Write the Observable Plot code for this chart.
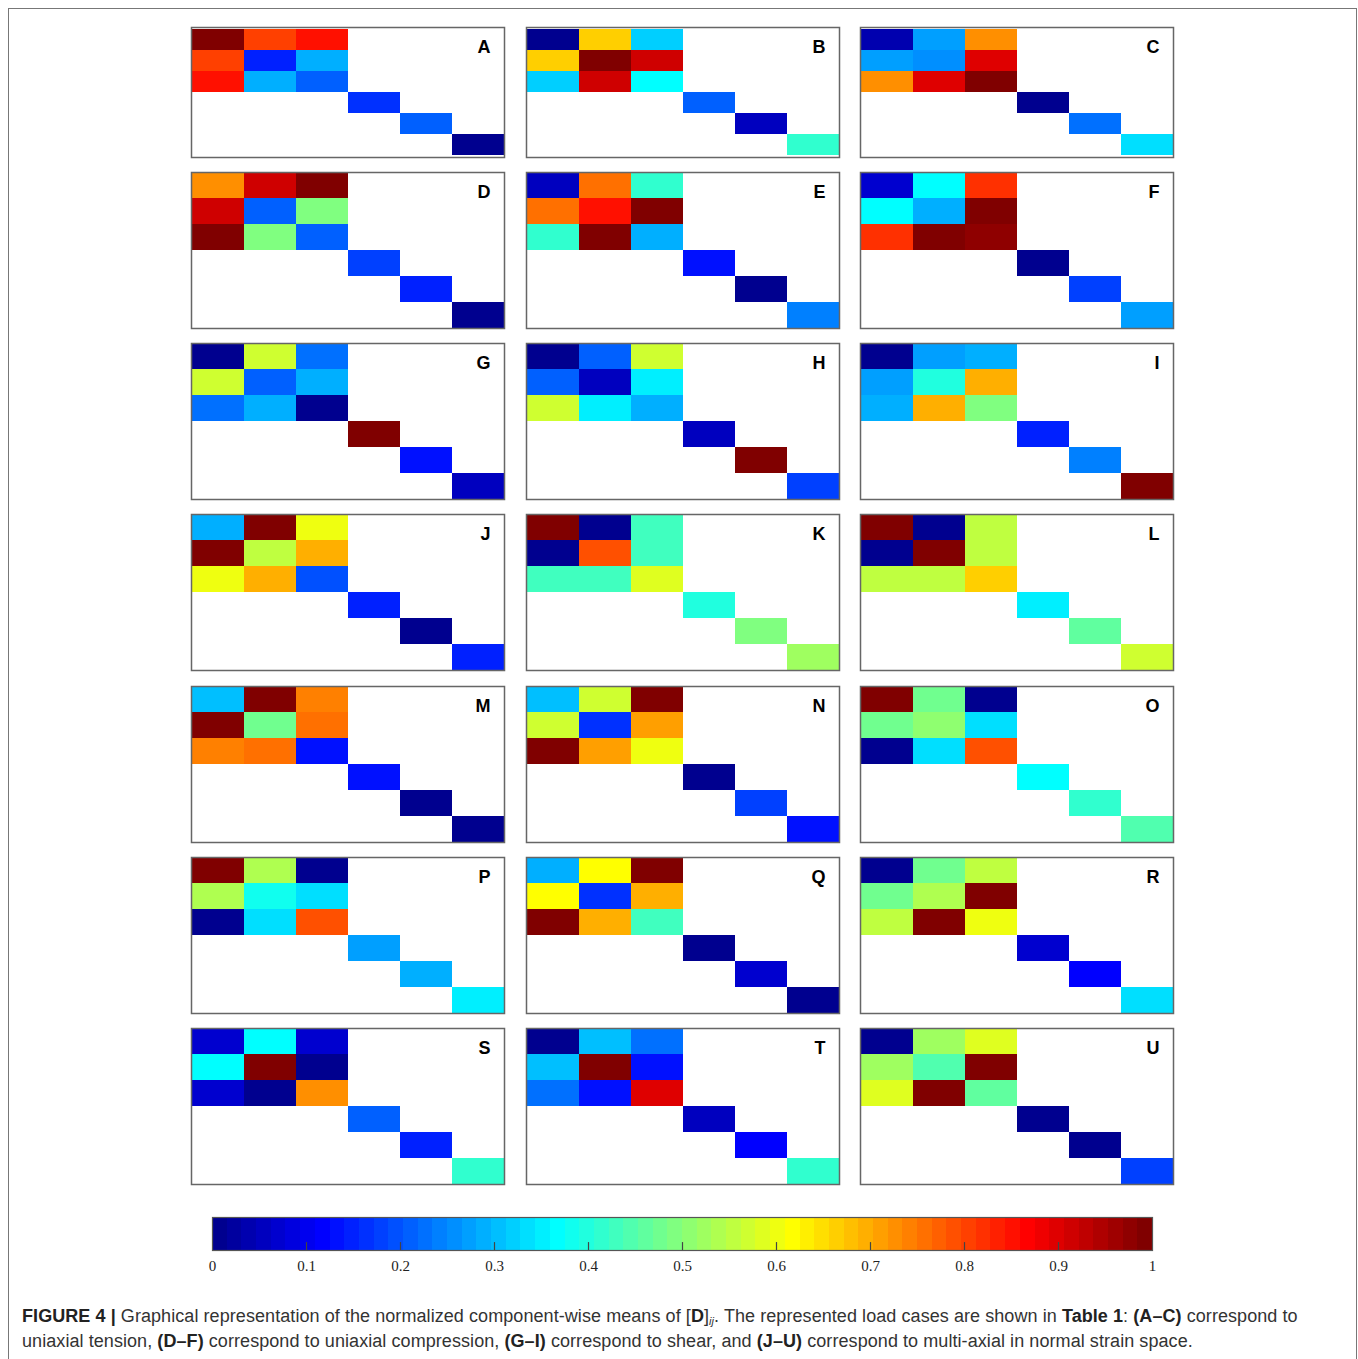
<!DOCTYPE html>
<html><head><meta charset="utf-8">
<script src="https://cdn.jsdelivr.net/npm/d3@7"></script>
<script src="https://cdn.jsdelivr.net/npm/@observablehq/plot@0.6"></script>
<style>
html,body{margin:0;padding:0;background:#fff;overflow:hidden;}
#fig{position:relative;width:1358px;height:1359px;}
#border{position:absolute;left:8px;top:8px;width:1349px;height:1420px;border:1.5px solid #777;box-sizing:border-box;}
.panel{position:absolute;}
.panel svg{overflow:visible;}
#caption{position:absolute;left:22px;top:1304px;font-family:"Liberation Sans",Arial,sans-serif;font-size:18px;letter-spacing:0.07px;line-height:25px;color:#333;white-space:nowrap;}
#caption b{color:#222;}
#caption sub{font-size:11px;vertical-align:-3px;line-height:0;}
</style></head><body>
<div id="fig"><div id="border"></div>
<div id="caption"><b>FIGURE 4 |</b> Graphical representation of the normalized component-wise means of [<b>D</b>]<sub><i>ij</i></sub>. The represented load cases are shown in <b>Table 1</b>: <b>(A–C)</b> correspond to<br>uniaxial tension, <b>(D–F)</b> correspond to uniaxial compression, <b>(G–I)</b> correspond to shear, and <b>(J–U)</b> correspond to multi-axial in normal strain space.</div>
</div>
<script>
// ---- data ----
const panels = ["A","B","C","D","E","F","G","H","I","J","K","L","M","N","O","P","Q","R","S","T","U"];
const d11 = [1.00,0.00,0.04,0.73,0.06,0.07,0.00,0.00,0.00,0.29,1.00,1.00,0.30,0.30,1.00,1.00,0.29,0.00,0.07,0.00,0.00];
const d12 = [0.80,0.66,0.27,0.91,0.76,0.37,0.57,0.21,0.27,1.00,0.00,0.00,1.00,0.57,0.48,0.54,0.62,0.48,0.37,0.30,0.52];
const d13 = [0.85,0.32,0.73,1.00,0.41,0.82,0.23,0.57,0.29,0.60,0.43,0.55,0.74,1.00,0.00,0.00,1.00,0.55,0.07,0.23,0.59];
const d22 = [0.15,1.00,0.26,0.21,0.85,0.29,0.21,0.06,0.40,0.55,0.79,1.00,0.48,0.16,0.51,0.38,0.16,0.54,1.00,1.00,0.45];
const d23 = [0.29,0.91,0.90,0.49,1.00,1.00,0.29,0.35,0.70,0.70,0.43,0.55,0.76,0.71,0.34,0.34,0.70,1.00,0.00,0.13,1.00];
const d33 = [0.21,0.37,1.00,0.21,0.29,0.98,0.00,0.29,0.49,0.19,0.59,0.66,0.13,0.60,0.79,0.79,0.43,0.60,0.73,0.90,0.46];
const d44 = [0.16,0.21,0.00,0.18,0.14,0.00,1.00,0.06,0.15,0.15,0.40,0.35,0.13,0.00,0.37,0.27,0.00,0.07,0.21,0.06,0.00];
const d55 = [0.21,0.06,0.23,0.15,0.00,0.18,0.13,1.00,0.24,0.00,0.49,0.46,0.00,0.18,0.41,0.29,0.07,0.12,0.15,0.12,0.00];
const d66 = [0.00,0.41,0.34,0.00,0.24,0.27,0.06,0.18,1.00,0.15,0.52,0.57,0.00,0.13,0.45,0.35,0.00,0.34,0.41,0.41,0.18];
const colorbarTicks = [0,0.1,0.2,0.3,0.4,0.5,0.6,0.7,0.8,0.9,1];

// ---- MATLAB jet(64) colormap ----
function jet(n){
  const m = Math.ceil(n/4), u = [];
  for (let k=1;k<=m;k++) u.push(k/m);
  for (let k=0;k<m-1;k++) u.push(1);
  for (let k=m;k>=1;k--) u.push(k/m);
  const g0 = Math.ceil(m/2) - (n%4===1?1:0);
  const J = Array.from({length:n},()=>[0,0,0]);
  u.forEach((val,k)=>{
    const g = g0+k+1, r = g+m, b = g-m;
    if (g>=1&&g<=n) J[g-1][1]=val;
    if (r>=1&&r<=n) J[r-1][0]=val;
    if (b>=1&&b<=n) J[b-1][2]=val;
  });
  return J.map(([r,g,b])=>d3.rgb(r*255,g*255,b*255).formatHex());
}
const jet64 = jet(64);
const colorScale = {type:"quantize", domain:[0,1], range:jet64};

// ---- layout ----
const colLeft = [191, 526, 860];
const rowTop = [27, 172, 343, 514, 686, 857, 1028];
const rowH = [130, 156, 156, 156, 156, 156, 156];
const panelW = 313;
const fig = document.getElementById("fig");

function cellsFor(p){
  const M = [[d11[p],d12[p],d13[p]],[d12[p],d22[p],d23[p]],[d13[p],d23[p],d33[p]]];
  const out = [];
  for (let i=0;i<3;i++) for (let j=0;j<3;j++) out.push({row:i+1,col:j+1,v:M[i][j]});
  out.push({row:4,col:4,v:d44[p]},{row:5,col:5,v:d55[p]},{row:6,col:6,v:d66[p]});
  return out;
}

panels.forEach((name,p)=>{
  const r = Math.floor(p/3), c = p%3;
  const chart = Plot.plot({
    width: panelW+2, height: rowH[r]+2,
    marginLeft:1, marginRight:1, marginTop:1, marginBottom:1,
    x:{type:"band", domain:[1,2,3,4,5,6], padding:0, axis:null},
    y:{type:"band", domain:[1,2,3,4,5,6], padding:0, axis:null},
    color: colorScale,
    marks:[
      Plot.cell(cellsFor(p), {x:"col", y:"row", fill:"v", inset:0, shapeRendering:"crispEdges"}),
      Plot.frame({stroke:"#666", strokeWidth:1.5}),
      Plot.text([name], {frameAnchor:"top-right", text:d=>d, dx:-14, dy:13, lineAnchor:"top",
        fontSize:18, fontWeight:"bold", fontFamily:"Liberation Sans, Arial, sans-serif", fill:"#000"})
    ]
  });
  const div = document.createElement("div");
  div.className = "panel";
  div.style.left = (colLeft[c]-1)+"px";
  div.style.top = (rowTop[r]-1)+"px";
  div.appendChild(chart);
  fig.appendChild(div);
});

// ---- colorbar ----
const bins = d3.range(64);
const cb = Plot.plot({
  width: 1000, height: 66, marginLeft:30, marginRight:30, marginTop:1, marginBottom:32,
  x:{domain:[0,1], axis:null},
  y:{domain:[0,1], axis:null},
  color: colorScale,
  marks:[
    Plot.rect(bins, {x1:d=>d/64, x2:d=>(d+1)/64, y1:0, y2:1, fill:d=>(d+0.5)/64, shapeRendering:"crispEdges"}),
    Plot.ruleX(colorbarTicks.slice(1,-1), {x:d=>d, y1:0, y2:0.24, stroke:"#444", strokeWidth:1.2}),
    Plot.frame({stroke:"#555", strokeWidth:1.2}),
    Plot.axisX(colorbarTicks, {tickSize:0, tickPadding:10, tickFormat:d3.format("~g"),
      fontFamily:"Liberation Serif, Times New Roman, serif", fontSize:15, fill:"#222", label:null})
  ]
});
const cbDiv = document.createElement("div");
cbDiv.className = "panel";
cbDiv.style.left = (212-30)+"px";
cbDiv.style.top = (1217-1)+"px";
cbDiv.appendChild(cb);
fig.appendChild(cbDiv);
</script>
</body></html>
